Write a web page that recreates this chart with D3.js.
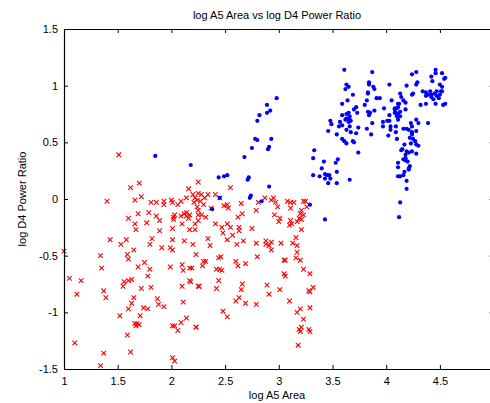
<!DOCTYPE html>
<html><head><meta charset="utf-8">
<script src="https://cdn.jsdelivr.net/npm/d3@7/dist/d3.min.js"></script>
<style>html,body{margin:0;padding:0;background:#fff;overflow:hidden}</style>
</head><body>
<svg id="c" width="490" height="403"></svg>
<script>
const title = "log A5 Area vs log D4 Power Ratio";
const xLabel = "log A5 Area";
const yLabel = "log D4 Power Ratio";
const xTicks = [1, 1.5, 2, 2.5, 3, 3.5, 4, 4.5];
const yTicks = [-1.5, -1, -0.5, 0, 0.5, 1, 1.5];

const redPoints = [
[1.51,0.39],[1.62,0.10],[1.70,0.14],[1.72,0.02],[2.16,0.09],[2.25,0.15],[1.40,-0.02],[1.66,-0.01],[1.81,-0.03],[1.86,-0.03],[1.93,-0.02],[1.93,-0.05],[2.00,-0.01],[2.01,-0.03],[2.06,-0.05],[2.09,-0.02],[2.14,0.01],[2.20,0.04],[2.22,0.01],[2.24,-0.01],[2.21,-0.03],[2.24,-0.07],[2.25,-0.10],[2.25,-0.14],[1.60,-0.17],[1.69,-0.13],[1.66,-0.22],[1.67,-0.27],[1.79,-0.12],[1.77,-0.21],[1.86,-0.15],[1.89,-0.19],[1.89,-0.28],[1.82,-0.35],[1.80,-0.40],[1.43,-0.36],[1.53,-0.40],[1.58,-0.36],[1.65,-0.45],[1.91,-0.43],[1.99,-0.43],[2.01,-0.45],[2.01,-0.36],[2.02,-0.16],[2.03,-0.14],[2.02,-0.18],[2.01,-0.26],[2.10,-0.22],[2.12,-0.37],[2.20,-0.40],[2.09,-0.15],[2.12,-0.13],[2.14,-0.15],[2.16,-0.17],[2.17,-0.14],[2.14,-0.12],[2.17,-0.27],[2.22,-0.27],[2.25,-0.19],[1.00,-0.46],[1.34,-0.50],[1.59,-0.49],[2.23,-0.49],[1.60,-0.53],
[2.55,0.10],[2.25,0.05],[2.28,0.04],[2.34,0.04],[2.31,0.01],[2.41,0.04],[2.45,0.01],[2.27,-0.02],[2.30,-0.05],[2.37,-0.08],[2.49,-0.06],[2.52,-0.05],[2.53,-0.08],[2.65,-0.04],[2.81,-0.03],[2.87,0.01],[2.93,-0.01],[2.95,0.01],[2.97,-0.03],[2.99,-0.07],[3.08,-0.02],[3.11,-0.03],[3.14,-0.03],[3.11,-0.08],[3.23,-0.02],[3.25,-0.02],[3.26,-0.07],[3.21,-0.10],[3.20,-0.13],[3.23,-0.14],[3.19,-0.17],[3.21,-0.18],[3.17,-0.20],[3.11,-0.19],[3.12,-0.22],[3.10,-0.23],[3.21,-0.27],[3.16,-0.34],[3.17,-0.41],[3.17,-0.47],[2.96,-0.14],[3.01,-0.17],[3.00,-0.20],[2.66,-0.13],[2.62,-0.16],[2.79,-0.10],[2.75,-0.26],[2.63,-0.25],[2.63,-0.28],[2.52,-0.22],[2.55,-0.25],[2.41,-0.22],[2.47,-0.25],[2.48,-0.30],[2.28,-0.14],[2.32,-0.16],[2.22,-0.22],[2.34,-0.35],[2.36,-0.41],[2.57,-0.32],[2.61,-0.40],[2.67,-0.37],[2.52,-0.36],[2.79,-0.39],[2.88,-0.37],[2.88,-0.40],[2.91,-0.41],[2.93,-0.38],[2.93,-0.45],[3.02,-0.39],[3.13,-0.39],
[1.35,-0.61],[1.69,-0.60],[1.75,-0.56],[1.80,-0.62],[1.78,-0.68],[1.99,-0.60],[2.10,-0.58],[2.11,-0.63],[2.17,-0.61],[2.19,-0.61],[1.05,-0.70],[1.16,-0.72],[1.56,-0.73],[1.55,-0.77],[1.60,-0.72],[1.63,-0.71],[1.72,-0.79],[1.81,-0.78],[2.10,-0.77],[2.17,-0.72],[2.18,-0.73],[2.25,-0.77],[1.12,-0.84],[1.37,-0.81],[1.39,-0.87],[1.65,-0.87],[1.63,-0.92],[1.60,-0.97],[1.87,-0.88],[1.88,-0.93],[1.93,-0.95],[1.74,-0.96],[1.78,-0.97],[1.71,-1.03],[1.52,-1.03],[1.66,-1.10],[1.68,-1.10],[1.70,-1.11],[1.67,-1.12],[2.11,-0.91],[2.14,-1.05],[2.09,-1.09],[2.01,-1.12],[2.03,-1.12],[2.06,-1.16],[2.23,-1.13],[1.59,-1.20],[1.10,-1.27],[1.37,-1.36],[1.62,-1.35],[2.01,-1.40],[2.03,-1.43],[1.34,-1.47],
[2.29,-0.59],[2.30,-0.55],[2.32,-0.55],[2.44,-0.52],[2.46,-0.51],[2.60,-0.55],[2.62,-0.59],[2.69,-0.57],[2.80,-0.51],[3.05,-0.54],[3.06,-0.54],[3.16,-0.52],[3.20,-0.54],[2.42,-0.62],[2.45,-0.62],[2.47,-0.63],[3.23,-0.62],[3.29,-0.66],[3.05,-0.66],[3.06,-0.68],[2.44,-0.72],[2.26,-0.77],[2.42,-0.79],[2.66,-0.75],[2.65,-0.80],[2.89,-0.76],[3.01,-0.80],[2.91,-0.84],[3.28,-0.81],[3.29,-0.82],[3.32,-0.78],[2.63,-0.87],[2.60,-0.90],[2.69,-0.92],[2.79,-0.93],[3.10,-0.90],[3.20,-0.97],[3.17,-1.00],[3.29,-0.96],[2.48,-0.99],[2.52,-1.04],[2.23,-1.13],[3.23,-1.06],[3.21,-1.13],[3.20,-1.17],[3.19,-1.15],[3.28,-1.15],[3.29,-1.17],[3.18,-1.29]
];

const bluePoints = [
[1.85,0.38],[2.18,0.30],
[2.75,0.45],[2.90,0.44],[2.91,0.46],[2.68,0.37],[2.44,0.19],[2.49,0.20],[2.52,0.21],[2.72,0.19],[2.71,0.17],[2.91,0.11],[2.74,0.03],[2.73,0.01],[2.45,0.01],[2.38,-0.09],[2.84,-0.02],
[2.78,0.53],[2.80,0.52],[2.93,0.53],[2.80,0.69],[2.82,0.74],[2.89,0.76],[2.92,0.78],[2.89,0.83],[2.98,0.89],
[3.61,1.14],[3.87,1.12],[3.63,1.01],[3.65,0.99],[3.62,0.97],[3.69,0.92],[3.84,1.03],[3.84,1.01],[3.88,0.99],[3.89,0.97],[3.83,0.94],[3.83,0.93],[4.03,1.01],[4.05,0.87],[3.64,0.87],[3.59,0.84],[3.82,0.87],[3.80,0.83],[3.91,0.89],[3.94,0.89],[3.72,0.81],[3.70,0.79],[3.73,0.76],[3.83,0.77],[3.85,0.76],[3.84,0.74],[3.89,0.78],[3.98,0.80],[4.03,0.74],[3.59,0.74],[3.63,0.75],[3.65,0.76],[3.66,0.73],[3.63,0.71],[3.66,0.70],[3.62,0.70],[3.65,0.68],[3.67,0.69],[3.48,0.69],[3.49,0.66],[3.57,0.68],[3.59,0.65],[3.56,0.64],[3.66,0.64],[3.63,0.61],[3.67,0.59],[3.74,0.63],[3.46,0.60],[3.54,0.57],[3.59,0.53],[3.61,0.51],[3.63,0.49],[3.69,0.51],[3.70,0.50],[3.72,0.58],[3.82,0.62],[3.86,0.57],[3.87,0.67],[3.97,0.68],[4.01,0.69],[4.03,0.69],[3.97,0.64],[4.04,0.64],[4.04,0.61],[4.02,0.56],[4.08,0.80],[4.08,0.76],[3.74,0.41],[3.33,0.43],[3.32,0.36],[3.42,0.33],[3.55,0.35],[3.53,0.32],[3.40,0.27],[3.54,0.24],[3.32,0.21],[3.38,0.20],[3.43,0.22],[3.45,0.21],[3.47,0.21],[3.43,0.18],[3.48,0.18],[3.46,0.14],[3.54,0.14],[3.66,0.17],[3.29,-0.05],[3.43,-0.18],
[4.46,1.14],[4.46,1.11],[4.52,1.11],[4.42,1.08],[4.55,1.07],[4.54,1.06],[4.43,1.04],[4.28,1.12],[4.24,1.10],[4.19,1.00],[4.29,1.03],[4.28,1.01],[4.50,1.01],[4.52,0.99],[4.51,0.95],[4.47,0.95],[4.34,0.95],[4.37,0.94],[4.39,0.92],[4.41,0.95],[4.42,0.92],[4.45,0.93],[4.47,0.91],[4.49,0.89],[4.37,0.91],[4.42,0.90],[4.44,0.88],[4.50,0.92],[4.52,0.95],[4.55,0.84],[4.53,0.83],[4.46,0.84],[4.32,0.83],[4.37,0.84],[4.25,0.93],[4.24,0.92],[4.13,0.93],[4.14,0.90],[4.16,0.87],[4.18,0.85],[4.11,0.84],[4.12,0.84],[4.10,0.80],[4.11,0.81],[4.18,0.79],[4.08,0.79],[4.09,0.76],[4.13,0.77],[4.11,0.75],[4.10,0.73],[4.13,0.73],[4.11,0.70],[4.09,0.64],[4.09,0.59],[4.10,0.53],[4.16,0.62],[4.19,0.62],[4.21,0.61],[4.24,0.64],[4.23,0.67],[4.28,0.70],[4.30,0.67],[4.28,0.60],[4.24,0.59],[4.24,0.57],[4.22,0.54],[4.25,0.53],[4.27,0.51],[4.23,0.49],[4.28,0.48],[4.30,0.47],[4.17,0.48],[4.39,0.67],[4.15,0.44],[4.14,0.43],[4.19,0.42],[4.18,0.39],[4.21,0.41],[4.24,0.42],[4.28,0.40],[4.16,0.35],[4.18,0.34],[4.20,0.33],[4.18,0.36],[4.11,0.32],[4.11,0.28],[4.22,0.29],[4.21,0.27],[4.21,0.26],[4.17,0.24],[4.16,0.21],[4.13,0.20],[4.11,0.20],[4.19,0.16],[4.19,0.09],[4.13,-0.03],[4.12,-0.16]
];

const svg = d3.select("#c");
const L = 64, R = 493.6, T = 29, B = 369;
const x = d3.scaleLinear().domain([1, 5]).range([L, R]);
const y = d3.scaleLinear().domain([-1.5, 1.5]).range([B, T]);
const font = "'Liberation Sans', Arial, Helvetica, sans-serif";

// markers
const red = svg.append("g").attr("stroke", "#ff0000").attr("stroke-width", 1.1).attr("fill", "none");
const s = 2.3;
red.selectAll("path").data(redPoints).enter().append("path")
  .attr("d", d => {
    const cx = x(d[0]), cy = y(d[1]);
    return `M${cx - s},${cy - s}L${cx + s},${cy + s}M${cx - s},${cy + s}L${cx + s},${cy - s}`;
  });
svg.append("g").attr("fill", "#0000ff").selectAll("circle").data(bluePoints).enter().append("circle")
  .attr("cx", d => x(d[0])).attr("cy", d => y(d[1])).attr("r", 2.1);

// axes (MATLAB style, inward ticks)
const fmt = d => String(d);
const gB = svg.append("g").attr("transform", `translate(0,${B})`)
  .call(d3.axisBottom(x).tickValues(xTicks).tickSizeInner(-4).tickSizeOuter(0).tickPadding(8).tickFormat(fmt));
const gT = svg.append("g").attr("transform", `translate(0,${T})`)
  .call(d3.axisTop(x).tickValues(xTicks).tickSizeInner(-4).tickSizeOuter(0).tickFormat(""));
const gL = svg.append("g").attr("transform", `translate(${L},0)`)
  .call(d3.axisLeft(y).tickValues(yTicks).tickSizeInner(-4).tickSizeOuter(0).tickPadding(6).tickFormat(fmt));
const gR = svg.append("g").attr("transform", `translate(${R},0)`)
  .call(d3.axisRight(y).tickValues(yTicks).tickSizeInner(-4).tickSizeOuter(0).tickFormat(""));
[gB, gT, gL, gR].forEach(g => {
  g.selectAll(".domain").attr("stroke", "#000").attr("stroke-width", 1.2);
  g.selectAll(".tick line").attr("stroke", "#000");
  g.selectAll("text").attr("font-family", font).attr("font-size", "11px").attr("fill", "#000");
});

svg.append("text").attr("x", 277).attr("y", 19).attr("text-anchor", "middle")
  .attr("font-family", font).attr("font-size", "11px").text(title);
svg.append("text").attr("x", 277).attr("y", 399).attr("text-anchor", "middle")
  .attr("font-family", font).attr("font-size", "11px").text(xLabel);
svg.append("text").attr("transform", `translate(26,${(T + B) / 2}) rotate(-90)`).attr("text-anchor", "middle")
  .attr("font-family", font).attr("font-size", "11px").text(yLabel);
</script>
</body></html>
